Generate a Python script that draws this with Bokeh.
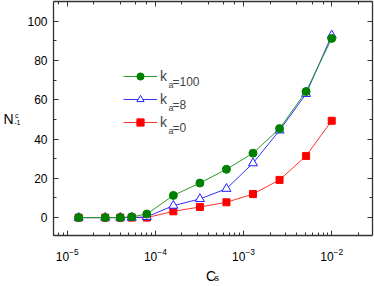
from bokeh.plotting import figure
from bokeh.models import (LogAxis, LinearAxis, Range1d, Label, Legend, LegendItem,
                          SingleIntervalTicker, LogTicker, FixedTicker)
from bokeh.embed import file_html
from bokeh.resources import INLINE

# ---- data ----
cs = [1.35e-5, 2.7e-5, 4.0e-5, 5.4e-5, 8.0e-5, 1.6e-4, 3.2e-4, 6.4e-4,
      1.28e-3, 2.56e-3, 5.12e-3, 1.0e-2]
n_ka100 = [0, 0, 0, 0.4, 1.8, 11.3, 17.6, 24.6, 32.8, 45.3, 64.2, 91.2]
n_ka8 = [0, 0, 0, 0, 0.4, 6.1, 9.5, 14.7, 27.7, 44.4, 63.0, 92.8]
n_ka0 = [0, 0, 0, 0, 0, 3.2, 5.4, 7.8, 12.0, 19.2, 31.4, 49.3]
legend_texts = ["=100", "=8", "=0"]

FONT = "Liberation Sans"
AX = "#333333"
NB = "\u00a0"

p = figure(width=374, height=286, x_axis_type="log",
           x_range=Range1d(7e-6, 2.9e-2), y_range=Range1d(-9.1, 110),
           output_backend="svg", toolbar_location=None,
           min_border_left=52, min_border_right=2, min_border_top=1, min_border_bottom=49)
p.outline_line_color = None
p.xgrid.visible = False
p.ygrid.visible = False
p.background_fill_color = "white"

p.yaxis.ticker = SingleIntervalTicker(interval=20, num_minor_ticks=2)

def style(ax, labels=True):
    ax.axis_line_color = AX
    ax.axis_line_width = 1.3
    ax.major_tick_line_color = AX
    ax.minor_tick_line_color = AX
    ax.major_tick_in = 5
    ax.major_tick_out = 0
    ax.minor_tick_in = 3
    ax.minor_tick_out = 0
    ax.major_label_text_font = FONT
    ax.major_label_text_color = "black"
    ax.major_label_text_font_size = "12px"
    ax.axis_label_text_font = FONT
    ax.axis_label_text_font_style = "normal"
    ax.axis_label_text_color = "black"
    if not labels:
        ax.major_label_text_font_size = "1px"
        ax.major_label_text_alpha = 0
        ax.major_label_standoff = 0

def hidden(ax):
    ax.axis_line_color = None
    ax.major_tick_line_color = None
    ax.minor_tick_line_color = None
    ax.major_tick_in = 0
    ax.major_tick_out = 0
    ax.minor_tick_in = 0
    ax.minor_tick_out = 0
    ax.major_label_text_font_size = "1px"
    ax.major_label_text_alpha = 0
    ax.major_label_standoff = 0
    ax.axis_label_text_font = FONT
    ax.axis_label_text_font_style = "normal"
    ax.axis_label_text_color = "black"

xa = p.xaxis[0]
ya = p.yaxis[0]
style(xa)
style(ya)
xa.major_label_standoff = 12
ya.major_label_standoff = 6

# x title: "C" with subscript "s"
xa.axis_label = "C" + NB
xa.axis_label_text_font_size = "14px"
xa.axis_label_standoff = 4
s_ax = LogAxis(ticker=FixedTicker(ticks=[]))
hidden(s_ax)
s_ax.axis_label = NB * 3 + "s"
s_ax.axis_label_text_font_size = "9px"
s_ax.axis_label_standoff = -14
p.add_layout(s_ax, "below")

# y title: "N" with superscript "c" and subscript "-1"
ya.axis_label = "c" + NB + "\n-1"
ya.axis_label_orientation = "horizontal"
ya.axis_label_text_font_size = "7px"
ya.axis_label_text_line_height = 1.0
ya.axis_label_standoff = 4
n_ax = LinearAxis(ticker=FixedTicker(ticks=[]))
hidden(n_ax)
n_ax.axis_label = "N"
n_ax.axis_label_orientation = "horizontal"
n_ax.axis_label_text_font_size = "14px"
n_ax.axis_label_standoff = -2
p.add_layout(n_ax, "left")

top = LogAxis(ticker=LogTicker())
style(top, labels=False)
p.add_layout(top, "above")
right = LinearAxis(ticker=SingleIntervalTicker(interval=20, num_minor_ticks=2))
style(right, labels=False)
p.add_layout(right, "right")

# ---- series ----
l0 = p.line(cs, n_ka0, line_color="#ff3030", line_width=1)
s0 = p.scatter(cs, n_ka0, marker="square", size=7, fill_color="#ff0000", line_color="#ff0000")
l8 = p.line(cs, n_ka8, line_color="#3030ff", line_width=1)
s8 = p.scatter(cs, n_ka8, marker="triangle", size=9, fill_color="white", line_color="#2020ff", line_width=1)
l100 = p.line(cs, n_ka100, line_color="#2a9a2a", line_width=1)
s100 = p.scatter(cs, n_ka100, marker="circle", size=8, fill_color="#008000", line_color="#008000")

legend = Legend(items=[LegendItem(label="k", renderers=[l100, s100]),
                       LegendItem(label="k", renderers=[l8, s8]),
                       LegendItem(label="k", renderers=[l0, s0])],
                location=(70, 104), glyph_width=34, glyph_height=18, label_height=18,
                spacing=5, padding=0, margin=0, border_line_color=None,
                background_fill_alpha=0, label_text_font=FONT,
                label_text_font_size="14px", label_standoff=3)
p.add_layout(legend)

for i, t in enumerate(legend_texts):
    yb = 154 - 23 * i
    p.add_layout(Label(x=115, y=yb - 3, x_units="screen", y_units="screen", text="a",
                       text_font=FONT, text_font_size="9px", text_baseline="alphabetic"))
    p.add_layout(Label(x=119, y=yb, x_units="screen", y_units="screen", text=t,
                       text_font=FONT, text_font_size="12px", text_baseline="alphabetic"))

open("out.html", "w").write(file_html(p, INLINE))
